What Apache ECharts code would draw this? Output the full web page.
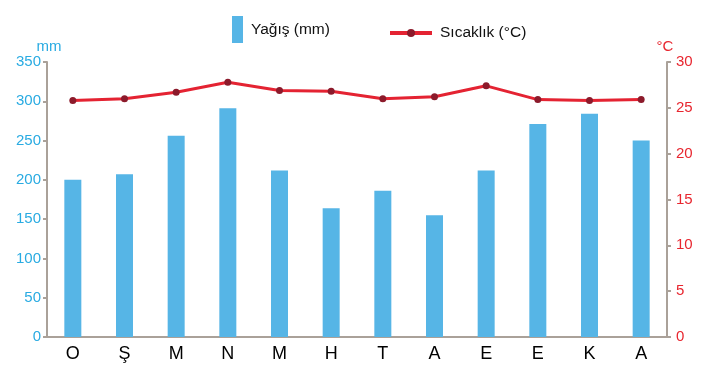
<!DOCTYPE html>
<html>
<head>
<meta charset="utf-8">
<script src="https://cdn.jsdelivr.net/npm/echarts@6/dist/echarts.min.js"></script>
<style>
  html, body { margin: 0; padding: 0; background: #fff; }
  #chart { width: 711px; height: 377px; }
</style>
</head>
<body>
<div id="chart"></div>
<script>
  // aylar
  const months = ['O', 'Ş', 'M', 'N', 'M', 'H', 'T', 'A', 'E', 'E', 'K', 'A'];
  // yağış (mm)
  const rain = [200, 207, 256, 291, 212, 164, 186, 155, 212, 271, 284, 250];
  // sıcaklık (°C)
  const temp = [25.8, 26.0, 26.7, 27.8, 26.9, 26.8, 26.0, 26.2, 27.4, 25.9, 25.8, 25.9];

  const axisColor = '#aaa199';
  const font = 'Liberation Sans, Arial, sans-serif';

  const chart = echarts.init(document.getElementById('chart'));

  const option = {
    animation: false,
    textStyle: { fontFamily: font },
    legend: [
      {
        data: ['Yağış (mm)'],
        left: 232,
        top: 16,
        padding: 0,
        icon: 'rect',
        itemWidth: 11,
        itemHeight: 27,
        textStyle: { fontSize: 15.5, color: '#111', fontFamily: font, padding: [4, 0, 0, 3] }
      },
      {
        data: ['Sıcaklık (°C)'],
        left: 388,
        top: 25,
        padding: 0,
        itemWidth: 42,
        itemHeight: 10,
        lineStyle: { width: 4, color: '#e42332' },
        textStyle: { fontSize: 15.5, color: '#111', fontFamily: font, padding: [0, 0, 0, 3] }
      }
    ],
    grid: { left: 47, right: 44, top: 62, bottom: 40 },
    xAxis: {
      type: 'category',
      data: months,
      axisLine: { lineStyle: { color: axisColor, width: 2 } },
      axisTick: { length: 5, lineStyle: { color: axisColor, width: 2 } },
      axisLabel: { color: '#000', fontSize: 18, margin: 8, fontFamily: font }
    },
    yAxis: [
      {
        type: 'value',
        min: 0, max: 350, interval: 50,
        name: 'mm',
        nameGap: 7,
        nameTextStyle: { color: '#29abe2', fontSize: 15, fontFamily: font, padding: [0, 0, 0, 4] },
        axisLine: { show: true, lineStyle: { color: axisColor, width: 2 } },
        axisTick: { show: true, length: 4, lineStyle: { color: axisColor, width: 2 } },
        axisLabel: { color: '#29abe2', fontSize: 15, margin: 6, fontFamily: font },
        splitLine: { show: false }
      },
      {
        type: 'value',
        min: 0, max: 30, interval: 5,
        name: '°C',
        nameGap: 7,
        nameTextStyle: { color: '#e8262f', fontSize: 15, fontFamily: font, padding: [0, 4, 0, 0] },
        axisLine: { show: true, lineStyle: { color: axisColor, width: 2 } },
        axisTick: { show: true, length: 4, lineStyle: { color: axisColor, width: 2 } },
        axisLabel: { color: '#e8262f', fontSize: 15, margin: 9, fontFamily: font },
        splitLine: { show: false }
      }
    ],
    series: [
      {
        name: 'Yağış (mm)',
        type: 'bar',
        data: rain,
        barWidth: 17,
        itemStyle: { color: '#56b5e6' }
      },
      {
        name: 'Sıcaklık (°C)',
        type: 'line',
        yAxisIndex: 1,
        data: temp,
        symbol: 'circle',
        symbolSize: 7,
        lineStyle: { color: '#e42332', width: 3 },
        itemStyle: { color: '#8c1a2b' }
      }
    ]
  };

  chart.setOption(option);
</script>
</body>
</html>
